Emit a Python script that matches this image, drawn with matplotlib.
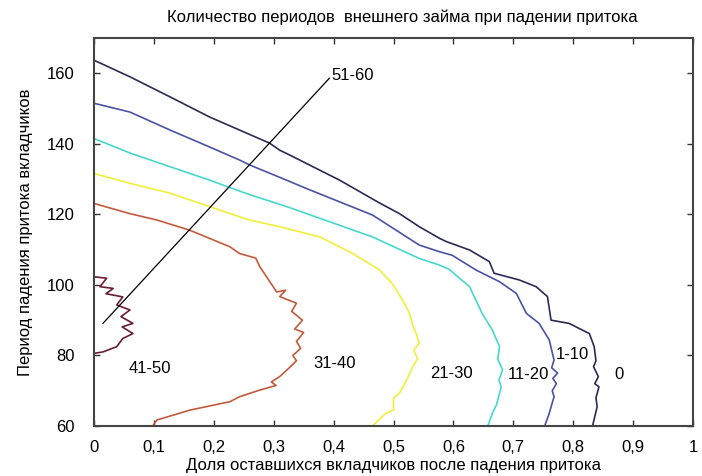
import matplotlib
matplotlib.use("Agg")
import matplotlib.pyplot as plt

plt.rcParams['font.family'] = ['Liberation Sans', 'DejaVu Sans']

title = "Количество периодов  внешнего займа при падении притока"
xlabel = "Доля оставшихся вкладчиков после падения притока"
ylabel = "Период падения притока вкладчиков"

xticks = [0, 0.1, 0.2, 0.3, 0.4, 0.5, 0.6, 0.7, 0.8, 0.9, 1.0]
xticklabels = ["0", "0,1", "0,2", "0,3", "0,4", "0,5", "0,6", "0,7", "0,8", "0,9", "1"]
yticks = [60, 80, 100, 120, 140, 160]

# contour "0"
x_0 = [0.0, 0.06, 0.127, 0.193, 0.243, 0.293, 0.31, 0.327, 0.41, 0.477, 0.51, 0.543,
       0.577, 0.588, 0.627, 0.66, 0.668, 0.71, 0.738, 0.757, 0.763, 0.793, 0.827,
       0.835, 0.838, 0.834, 0.842, 0.836, 0.843, 0.838, 0.84, 0.832]
y_0 = [163.7, 159.0, 153.3, 147.6, 143.9, 140.2, 138.2, 136.8, 129.7, 123.2, 120.2, 116.5,
       113.2, 112.3, 109.9, 106.6, 103.3, 101.4, 99.5, 96.7, 90.0, 89.1, 86.2,
       82.5, 78.5, 76.8, 74.0, 72.0, 71.1, 68.0, 65.5, 59.8]

# contour "1-10"
x_1_10 = [0.0, 0.06, 0.127, 0.193, 0.243, 0.26, 0.327, 0.355, 0.465, 0.543, 0.577,
          0.598, 0.638, 0.677, 0.705, 0.722, 0.743, 0.76, 0.768, 0.764, 0.774, 0.766,
          0.772, 0.765, 0.768, 0.76, 0.752]
y_1_10 = [151.5, 149.0, 143.9, 139.1, 135.4, 134.0, 129.3, 127.3, 119.8, 111.3, 109.4,
          108.4, 104.2, 100.9, 97.6, 91.9, 89.1, 84.4, 78.7, 76.5, 75.0, 73.5,
          72.0, 70.0, 68.3, 63.6, 59.8]

# contour "11-20"
x_11_20 = [0.0, 0.06, 0.127, 0.193, 0.243, 0.26, 0.327, 0.355, 0.465, 0.543, 0.577,
           0.593, 0.627, 0.648, 0.665, 0.677, 0.674, 0.682, 0.676, 0.68, 0.677,
           0.672, 0.665, 0.657]
y_11_20 = [141.5, 137.4, 133.5, 129.7, 126.6, 125.6, 121.9, 120.2, 113.6, 107.5, 105.6,
           104.4, 99.5, 91.9, 87.2, 82.5, 79.0, 75.9, 73.0, 71.0, 69.3,
           66.0, 63.6, 59.8]

# contour "21-30"
x_21_30 = [0.0, 0.06, 0.127, 0.193, 0.243, 0.26, 0.31, 0.377, 0.432, 0.477, 0.498,
           0.515, 0.527, 0.532, 0.538, 0.543, 0.534, 0.54, 0.532, 0.522, 0.51, 0.5,
           0.5, 0.488, 0.477, 0.465]
y_21_30 = [131.6, 128.8, 126.0, 122.2, 119.3, 118.4, 116.5, 113.6, 108.9, 104.2, 100.4,
           95.7, 91.9, 88.5, 86.2, 83.5, 81.5, 79.0, 76.8, 73.0, 69.3, 68.0,
           64.5, 63.7, 62.0, 60.0]

# contour "31-40"
x_31_40 = [0.0, 0.06, 0.105, 0.16, 0.227, 0.243, 0.27, 0.277, 0.305, 0.32, 0.31,
           0.338, 0.33, 0.348, 0.335, 0.35, 0.338, 0.345, 0.332, 0.338, 0.326,
           0.31, 0.296, 0.304, 0.277, 0.243, 0.227, 0.16, 0.105, 0.098]
y_31_40 = [123.1, 120.2, 118.4, 115.5, 110.8, 108.9, 107.6, 105.1, 98.0, 98.5, 96.7,
           94.8, 92.5, 90.0, 87.5, 86.5, 84.0, 82.0, 80.0, 78.5, 76.5,
           74.0, 72.5, 71.5, 70.2, 68.3, 66.9, 64.5, 61.7, 60.0]

# contour "41-50"
x_41_50 = [0.0, 0.021, 0.01, 0.032, 0.02, 0.048, 0.038, 0.06, 0.045, 0.065, 0.047,
           0.065, 0.048, 0.038, 0.015, 0.0]
y_41_50 = [102.3, 101.9, 99.5, 99.0, 97.5, 96.6, 94.3, 92.9, 91.0, 89.1, 88.1,
           86.2, 84.8, 82.5, 81.0, 80.6]

# leader line for "51-60"
x_51_60 = [0.015, 0.393]
y_51_60 = [89.1, 158.6]

contours = [
    (x_0, y_0, "#2b2a55", "0", 0.877, 74.7),
    (x_1_10, y_1_10, "#4a52a6", "1-10", 0.799, 80.4),
    (x_11_20, y_11_20, "#45d8cf", "11-20", 0.725, 74.5),
    (x_21_30, y_21_30, "#f2ef3a", "21-30", 0.597, 75.0),
    (x_31_40, y_31_40, "#c35a3c", "31-40", 0.402, 77.8),
    (x_41_50, y_41_50, "#6b1c36", "41-50", 0.093, 76.4),
]

fig = plt.figure(figsize=(7.02, 4.76), dpi=100)
ax = fig.add_axes([94 / 702, 50 / 476, 599 / 702, 388 / 476])

for xs, ys, col, lab, tx, ty in contours:
    ax.plot(xs, ys, color=col, lw=1.2)
    ax.text(tx, ty, lab, fontsize=12, ha="center", va="center")

ax.plot(x_51_60, y_51_60, color="black", lw=0.9)
ax.text(0.397, 159.4, "51-60", fontsize=12, ha="left", va="center")

ax.set_xlim(0, 1)
ax.set_ylim(60, 170)
ax.set_xticks(xticks)
ax.set_xticklabels(xticklabels)
ax.set_yticks(yticks)
ax.tick_params(direction="in", length=4, width=1, top=True, right=True,
               labelsize=12, colors="#333333", labelcolor="black")
ax.tick_params(axis="x", pad=10)
ax.tick_params(axis="y", pad=14)
for s in ax.spines.values():
    s.set_linewidth(1.5)
    s.set_color("#444444")

fig.text(402 / 702, 1 - 17 / 476, title, fontsize=12, ha="center", va="center")
ax.set_xlabel(xlabel, fontsize=12, labelpad=2)
ax.set_ylabel(ylabel, fontsize=12, labelpad=10)

fig.savefig("out.png", dpi=100)
